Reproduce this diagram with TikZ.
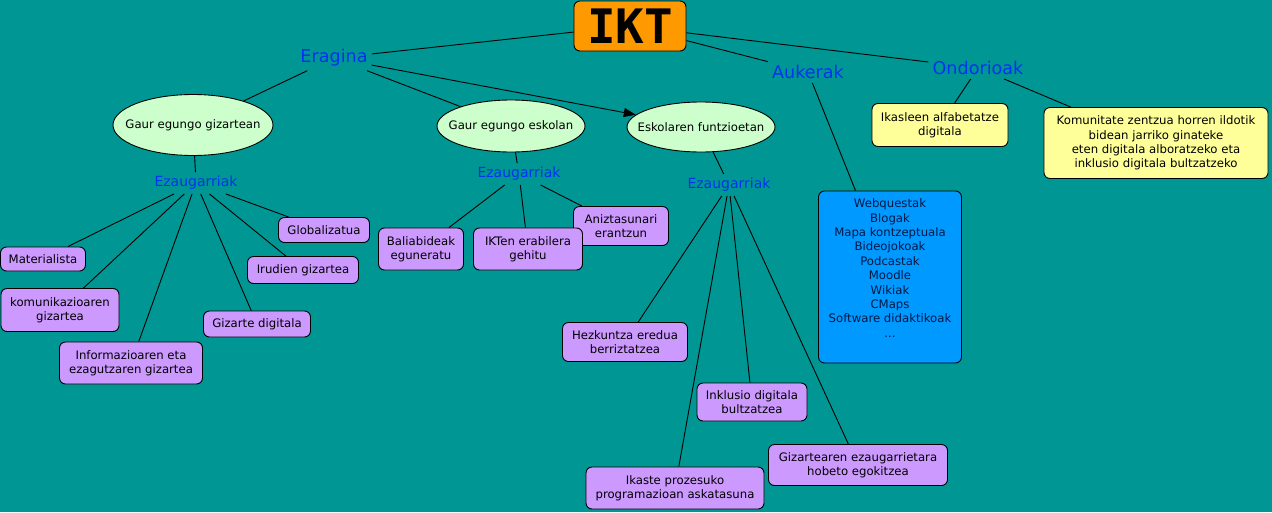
\documentclass[tikz,border=0pt]{standalone}
\usepackage{fontspec}
\setmainfont{DejaVu Sans}
\newfontfamily\iktfont{DejaVu Sans Mono}
\usetikzlibrary{shapes.geometric,arrows.meta}
\definecolor{bg}{RGB}{0,150,148}
\definecolor{purp}{RGB}{204,153,255}
\definecolor{yel}{RGB}{255,255,153}
\definecolor{lgreen}{RGB}{204,255,204}
\definecolor{bluebox}{RGB}{0,153,255}
\definecolor{orng}{RGB}{255,153,0}
\definecolor{lblue}{RGB}{0,51,240}
\definecolor{navy}{RGB}{0,25,70}
\pgfdeclarelayer{background}
\pgfsetlayers{background,main}
\begin{document}
\begin{tikzpicture}[x=1pt,y=-1pt,
  every node/.style={font=\fontsize{11.7}{14.4}\selectfont, inner sep=0pt},
  box/.style={draw=black, line width=0.9pt, rounded corners=6pt, align=center},
  pbox/.style={box, fill=purp},
  ybox/.style={box, fill=yel},
  ell/.style={ellipse, draw=black, line width=0.9pt, fill=lgreen},
  lab/.style={text=lblue, inner sep=4pt},
  biglab/.style={lab, font=\fontsize{17.6}{20}\selectfont},
  smalllab/.style={lab, font=\fontsize{14}{16}\selectfont},
  conn/.style={draw=black, line width=0.9pt}]
\useasboundingbox (0,0) rectangle (1272,512);
\begin{pgfonlayer}{background}
\fill[bg] (0,0) rectangle (1272,512);
\end{pgfonlayer}

% top
\node[box, fill=orng, minimum width=112pt, minimum height=50pt,
  font=\iktfont\bfseries\fontsize{47.5}{50}\selectfont] (ikt) at (630,26) {IKT};
\node[biglab] (erag) at (334,58) {Eragina};
\node[biglab] (auk) at (808,72) {Aukerak};
\node[biglab] (ond) at (978,68) {Ondorioak};

% ellipses
\node[ell, minimum width=160pt, minimum height=61pt] (giz) at (193,125) {\makebox[0pt]{Gaur egungo gizartean}};
\node[ell, minimum width=148pt, minimum height=52pt] (esk) at (511,126) {\makebox[0pt]{Gaur egungo eskolan}};
\node[ell, minimum width=148pt, minimum height=50pt] (fun) at (701,127) {\makebox[0pt]{Eskolaren funtzioetan}};

% Ezaugarriak labels
\node[smalllab] (ezL) at (196,183) {Ezaugarriak};
\node[smalllab] (ezM) at (519,174) {Ezaugarriak};
\node[smalllab] (ezR) at (729,185) {Ezaugarriak};

% left boxes
\node[pbox, minimum width=85pt, minimum height=24pt] (mat) at (43,259) {Materialista};
\node[pbox, minimum width=118pt, minimum height=43pt] (kom) at (60,310) {komunikazioaren\\gizartea};
\node[pbox, minimum width=143pt, minimum height=42pt] (inf) at (131,363) {Informazioaren eta\\ezagutzaren gizartea};
\node[pbox, minimum width=107pt, minimum height=26pt] (gdig) at (257,324) {Gizarte digitala};
\node[pbox, minimum width=111pt, minimum height=27pt] (iru) at (303,270) {Irudien gizartea};
\node[pbox, minimum width=91pt, minimum height=25pt] (glo) at (324,230) {Globalizatua};

% middle boxes
\node[pbox, minimum width=95pt, minimum height=39pt] (ani) at (621,226) {Aniztasunari\\erantzun};
\node[pbox, minimum width=85pt, minimum height=42pt] (bal) at (421,249) {Baliabideak\\eguneratu};
\node[pbox, minimum width=109pt, minimum height=42pt] (ikten) at (528,249) {IKTen erabilera\\gehitu};

% right boxes
\node[pbox, minimum width=125pt, minimum height=39pt] (hez) at (625,342) {Hezkuntza eredua\\berriztatzea};
\node[pbox, minimum width=110pt, minimum height=38pt] (ink) at (752,402) {Inklusio digitala\\bultzatzea};
\node[pbox, minimum width=178pt, minimum height=42pt] (ikas) at (675,488) {Ikaste prozesuko\\programazioan askatasuna};
\node[pbox, minimum width=179pt, minimum height=41pt] (gizar) at (858,465) {Gizartearen ezaugarrietara\\hobeto egokitzea};

% Aukerak box
\node[box, fill=bluebox, minimum width=143pt, minimum height=172pt] (aukbox) at (890,277) {};
\node[align=center, text=navy] (auktext) at (890,268) {Webquestak\\Blogak\\Mapa kontzeptuala\\Bideojokoak\\Podcastak\\Moodle\\Wikiak\\CMaps\\Software didaktikoak\\...};

% Ondorioak boxes
\node[ybox, minimum width=136pt, minimum height=43pt] (alf) at (940,125) {Ikasleen alfabetatze\\digitala};
\node[ybox, minimum width=224pt, minimum height=71pt] (kmt) at (1156,143) {Komunitate zentzua horren ildotik\\bidean jarriko ginateke\\eten digitala alboratzeko eta\\inklusio digitala bultzatzeko};

\begin{pgfonlayer}{background}
\draw[conn] (erag) -- (ikt);
\draw[conn] (ikt) -- (auk);
\draw[conn] (ikt) -- (ond);
\draw[conn] (erag) -- (giz);
\draw[conn] (erag) -- (esk);
\draw[conn, -{Triangle[length=12pt,width=9pt]}] (erag) -- (fun);
\draw[conn] (giz) -- (ezL);
\draw[conn] (esk) -- (ezM);
\draw[conn] (fun) -- (ezR);
\foreach \t in {mat,kom,inf,gdig,iru,glo} \draw[conn] (ezL) -- (\t);
\foreach \t in {bal,ikten,ani} \draw[conn] (ezM) -- (\t);
\foreach \t in {hez,ink,ikas,gizar} \draw[conn] (ezR) -- (\t);
\draw[conn] (auk) -- (aukbox);
\draw[conn] (ond) -- (alf);
\draw[conn] (ond) -- (kmt);
\end{pgfonlayer}
\end{tikzpicture}
\end{document}
